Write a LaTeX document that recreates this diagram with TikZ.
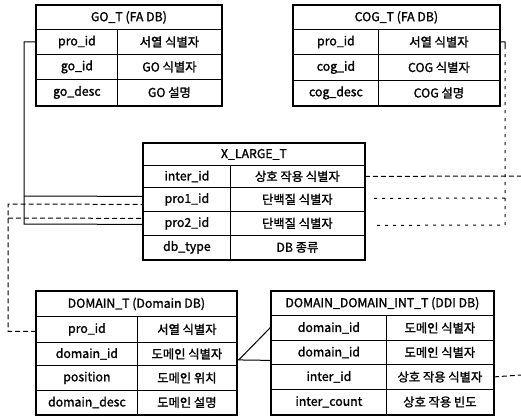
\documentclass[tikz,border=0pt]{standalone}
\usepackage{fontspec}
\setmainfont{Noto Sans CJK KR}
\newfontfamily\tblfont{Noto Sans CJK KR}[FakeBold=1.5]
\usetikzlibrary{calc}
\tikzset{
  cellst/.style={draw, line width=0.8pt, inner sep=0pt, font=\tblfont\fontsize{12.3}{13}\selectfont},
  outer/.style={line width=1.9pt},
  link/.style={line width=1pt},
  dlink/.style={line width=1pt, dash pattern=on 5pt off 3pt},
  dflink/.style={line width=1pt, dash pattern=on 3pt off 5pt},
}
\newcommand\dbhead[6]{% name, x0, x1, top, bottom, text
  \node[cellst, minimum width={#3-#2}, minimum height={#5-#4}, anchor=north west] (#1) at (#2,#4) {#6};}
\newcommand\dbrow[8]{% name, x0, split, x1, top, bottom, left, right
  \node[cellst, minimum width={#3-#2}, minimum height={#6-#5}, anchor=north west] (#1a) at (#2,#5) {#7};
  \node[cellst, minimum width={#4-#3}, minimum height={#6-#5}, anchor=north west] (#1b) at (#3,#5) {#8};}
\begin{document}
\begin{tikzpicture}[x=1pt, y=-1pt]
\useasboundingbox (0,0) rectangle (521,415);
% GO_T
\dbhead{go-h}{36}{221}{5}{29}{GO\_T (FA DB)}
\dbrow{go-1}{36}{117}{221}{29}{54}{pro\_id}{서열 식별자}
\dbrow{go-2}{36}{117}{221}{54}{79}{go\_id}{GO 식별자}
\dbrow{go-3}{36}{117}{221}{79}{105}{go\_desc}{GO 설명}
\draw[outer] (go-h.north west) rectangle (go-3b.south east);
% COG_T
\dbhead{cog-h}{293}{499}{5}{29}{COG\_T (FA DB)}
\dbrow{cog-1}{293}{378}{499}{29}{54}{pro\_id}{서열 식별자}
\dbrow{cog-2}{293}{378}{499}{54}{80}{cog\_id}{COG 식별자}
\dbrow{cog-3}{293}{378}{499}{80}{105}{cog\_desc}{COG 설명}
\draw[outer] (cog-h.north west) rectangle (cog-3b.south east);
% X_LARGE_T
\dbhead{x-h}{143}{364}{143}{165}{X\_LARGE\_T}
\dbrow{x-1}{143}{230}{364}{165}{187}{inter\_id}{상호 작용 식별자}
\dbrow{x-2}{143}{230}{364}{187}{211}{pro1\_id}{단백질 식별자}
\dbrow{x-3}{143}{230}{364}{211}{235}{pro2\_id}{단백질 식별자}
\dbrow{x-4}{143}{230}{364}{235}{259}{db\_type}{DB 종류}
\draw[outer] (x-h.north west) rectangle (x-4b.south east);
% DOMAIN_T
\dbhead{d-h}{36}{236}{291}{316}{DOMAIN\_T (Domain DB)}
\dbrow{d-1}{36}{137}{236}{316}{342}{pro\_id}{서열 식별자}
\dbrow{d-2}{36}{137}{236}{342}{365}{domain\_id}{도메인 식별자}
\dbrow{d-3}{36}{137}{236}{365}{390}{position}{도메인 위치}
\dbrow{d-4}{36}{137}{236}{390}{414}{domain\_desc}{도메인 설명}
\draw[outer] (d-h.north west) rectangle (d-4b.south east);
% DOMAIN_DOMAIN_INT_T
\dbhead{i-h}{271}{493}{291}{315}{DOMAIN\_DOMAIN\_INT\_T (DDI DB)}
\dbrow{i-1}{271}{386}{493}{315}{340}{domain\_id}{도메인 식별자}
\dbrow{i-2}{271}{386}{493}{340}{364}{domain\_id}{도메인 식별자}
\dbrow{i-3}{271}{386}{493}{364}{389}{inter\_id}{상호 작용 식별자}
\dbrow{i-4}{271}{386}{493}{389}{414}{inter\_count}{상호 작용 빈도}
\draw[outer] (i-h.north west) rectangle (i-4b.south east);
% connector coordinates
\coordinate (gl) at (24,0);
\coordinate (dl) at (8,0);
\coordinate (cr) at (505,0);
\coordinate (edge) at (521,0);
% solid from GO_T pro_id to pro1_id / pro2_id
\draw[link] (go-1a.west) -| ($(gl)+(0,224)$) -- ($(x-3a.west)+(0,1)$);
\draw[link] ($(gl)+(0,196)$) -- ($(x-2a.west)+(0,-3)$);
% dashed from DOMAIN_T pro_id to pro1_id / pro2_id
\draw[dlink] ($(d-1a.west)+(0,2)$) -| ($(dl)+(0,204)$) -- ($(x-2a.west)+(0,5)$);
\draw[dlink] ($(dl)+(0,218)$) -- ($(x-3a.west)+(0,-5)$);
% COG_T pro_id to pro1_id / pro2_id
\draw[link] (cog-1b.east) -- ($(cr)+(0,42)$) -- ++(0,4);
\draw[dflink] ($(cr)+(0,46)$) -- ($(cr)+(0,225)$) -- ($(x-3b.east)+(9,2)$);
\draw[dflink] ($(cr)+(0,198)$) -- ($(x-2b.east)+(9,-1)$);
% inter_id links
\draw[dlink] (x-1b.east) -- ($(edge)+(0,176)$);
\draw[dlink] (i-3b.east) -- ($(edge)+(0,375)$);
% DOMAIN_T domain_id to DDI domain_id
\draw[link] ($(d-2b.east)+(0,6)$) -- ($(i-2a.west)+(0,8)$);
\draw[link] ($(d-2b.east)+(2,6)$) -- ($(i-1a.west)+(0,-1)$);
\end{tikzpicture}
\end{document}
